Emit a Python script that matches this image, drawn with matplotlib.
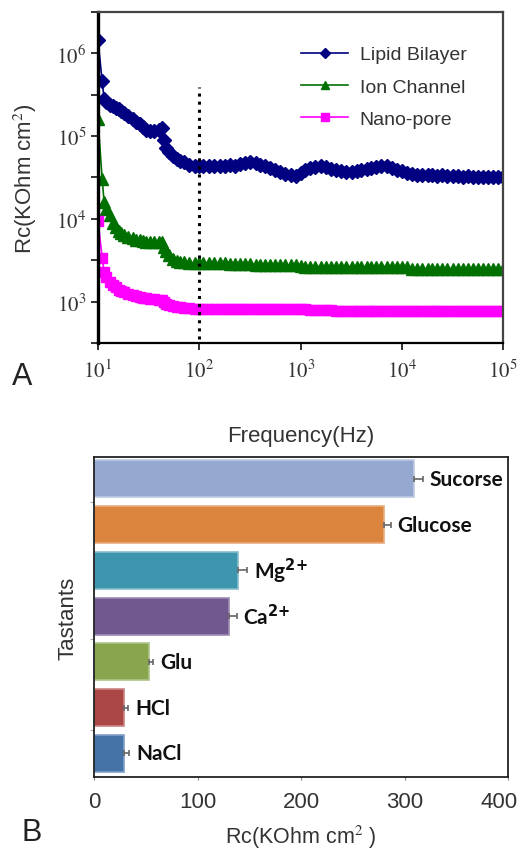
import numpy as np
import matplotlib
matplotlib.use("Agg")
import matplotlib.pyplot as plt
import matplotlib.transforms as mtransforms

plt.rcParams['font.family'] = ['Liberation Sans', 'DejaVu Sans']
plt.rcParams['mathtext.fontset'] = 'stix'

# ---- panel A data ----
freq = [10, 11, 11.5, 12, 13, 14, 15, 16, 17, 18, 20, 22, 24, 26, 28, 30, 33, 36, 40,
        43, 45, 47, 50, 55, 60, 65, 70, 80, 90, 100, 110, 125, 140, 160, 180, 200, 225, 250, 280,
        320, 360, 400, 450, 500, 560, 630, 710, 800, 900, 1000, 1120, 1250, 1400, 1600, 1800,
        2000, 2250, 2500, 2800, 3200, 3600, 4000, 4500, 5000, 5600, 6300, 7100, 8000, 9000,
        10000, 11200, 12500, 14000, 16000, 18000, 20000, 22500, 25000, 28000, 32000, 36000,
        40000, 45000, 50000, 56000, 63000, 71000, 80000, 90000, 100000]

lipid = [1.45e6, 4.6e5, 2.8e5, 2.6e5, 2.4e5, 2.3e5, 2.2e5, 2.1e5, 2.0e5, 1.9e5, 1.75e5,
         1.6e5, 1.5e5, 1.4e5, 1.3e5, 1.2e5, 1.15e5, 1.15e5, 1.17e5,
         1.25e5, 9e4, 7.2e4, 6.5e4, 5.8e4, 5.3e4, 5.0e4, 4.8e4, 4.5e4, 4.3e4,
         4.3e4, 4.3e4, 4.3e4, 4.3e4, 4.4e4, 4.4e4, 4.5e4, 4.4e4, 4.6e4, 4.7e4,
         4.8e4, 4.7e4, 4.5e4, 4.3e4, 4.1e4, 3.9e4, 3.7e4, 3.5e4, 3.35e4, 3.3e4,
         3.6e4, 3.9e4, 4.1e4, 4.2e4, 4.3e4, 4.2e4,
         4.0e4, 3.9e4, 3.8e4, 3.7e4, 3.7e4, 3.8e4, 3.9e4, 4.0e4, 4.1e4, 4.2e4, 4.3e4, 4.3e4,
         4.1e4, 3.9e4,
         3.8e4, 3.6e4, 3.5e4, 3.4e4, 3.4e4, 3.4e4, 3.4e4, 3.3e4, 3.4e4, 3.3e4, 3.3e4, 3.3e4,
         3.2e4, 3.3e4, 3.2e4, 3.2e4, 3.2e4, 3.2e4, 3.2e4, 3.2e4, 3.2e4]

ion = [1.6e5, 3e4, 1.6e4, 1.3e4, 1.1e4, 9e3, 8e3, 7.2e3, 6.8e3, 6.4e3, 6.0e3,
       5.8e3, 5.6e3, 5.5e3, 5.4e3, 5.3e3, 5.2e3, 5.2e3, 5.2e3,
       5.3e3, 4.6e3, 4.1e3, 3.7e3, 3.3e3, 3.1e3, 3.0e3, 3.0e3, 2.95e3, 2.95e3,
       2.95e3, 2.9e3, 2.9e3, 2.9e3, 2.9e3, 2.9e3, 2.85e3, 2.85e3, 2.85e3, 2.85e3,
       2.85e3, 2.8e3, 2.8e3, 2.8e3, 2.8e3, 2.8e3, 2.8e3, 2.75e3, 2.75e3, 2.75e3,
       2.7e3, 2.65e3, 2.65e3, 2.65e3, 2.65e3, 2.65e3,
       2.65e3, 2.65e3, 2.65e3, 2.65e3, 2.65e3, 2.65e3, 2.65e3, 2.65e3, 2.65e3, 2.65e3,
       2.65e3, 2.65e3, 2.65e3, 2.65e3,
       2.6e3, 2.6e3, 2.5e3, 2.5e3, 2.5e3, 2.5e3, 2.5e3, 2.5e3, 2.5e3, 2.5e3, 2.5e3, 2.5e3,
       2.5e3, 2.5e3, 2.5e3, 2.5e3, 2.5e3, 2.5e3, 2.5e3, 2.5e3, 2.5e3]

nano = [9.5e3, 3.4e3, 2.3e3, 2.0e3, 1.75e3, 1.6e3, 1.5e3, 1.4e3, 1.35e3, 1.3e3, 1.25e3,
        1.2e3, 1.17e3, 1.15e3, 1.12e3, 1.1e3, 1.08e3, 1.07e3, 1.06e3,
        1.05e3, 1.0e3, 940, 900, 880, 860, 850, 840, 830, 820,
        820, 820, 820, 815, 815, 815, 815, 810, 810, 810,
        810, 810, 810, 810, 810, 810, 805, 805, 805, 805,
        805, 805, 800, 800, 800, 800,
        800, 760, 760, 760, 760, 760, 760, 760, 760, 760, 760, 760, 760, 760,
        760, 760, 760, 760, 760, 760, 760, 760, 760, 760, 760, 760,
        760, 760, 760, 760, 760, 760, 760, 760, 760]

marker_freq = 100
marker_span = (355, 3.9e5)

# ---- panel B data ----
tastants = ['NaCl', 'HCl', 'Glu', r'Ca$^{\mathbf{2}{\mathbf{+}}}$', r'Mg$^{\mathbf{2}{\mathbf{+}}}$',
            'Glucose', 'Sucorse']
rc_vals = [29, 29, 53, 130, 139, 280, 309]
rc_err = [5, 3.5, 4, 7.5, 9, 6.5, 8.5]
bar_colors = ['#4572A7', '#AA4643', '#89A54E', '#71588F', '#3D96AE', '#DB843D', '#95A9D0']
edge_colors = ['#7f9fc8', '#c98583', '#aec48a', '#9d8bb3', '#85bdcc', '#e9ac7d', '#bcc9e2']

fig = plt.figure(figsize=(5.22, 8.54), dpi=100)

# ================= panel A =================
ax = fig.add_axes([0.1877, 0.5972, 0.776, 0.3876])
ax.set_xscale('log')
ax.set_yscale('log')
ax.plot(freq, lipid, color='#000080', marker='D', markersize=7, lw=1.2, label='Lipid Bilayer')
ax.plot(freq, ion, color='#007000', marker='^', markersize=8, lw=1.2, label='Ion Channel')
ax.plot(freq, nano, color='#ff00ff', marker='s', markersize=6.5, lw=1.2, label='Nano-pore')
ax.vlines(marker_freq, marker_span[0], marker_span[1], colors='black', linestyles=':', lw=2.2)

ax.set_xlim(10, 1e5)
ax.set_ylim(10**2.5, 10**6.5)
xt = [10, 100, 1000, 1e4, 1e5]
ax.set_xticks(xt, labels=[r'$\mathrm{10^{%d}}$' % int(np.log10(v)) for v in xt])
yt = [1e3, 1e4, 1e5, 1e6]
ax.set_yticks(yt, labels=[r'$\mathrm{10^{%d}}$' % int(np.log10(v)) for v in yt])
ax.set_yticks([10**2.5, 10**3.5, 10**4.5, 10**5.5, 10**6.5], minor=True)
ax.xaxis.set_minor_locator(matplotlib.ticker.NullLocator())
ax.tick_params(axis='both', which='both', direction='out', length=5, width=1.3,
               labelsize=15, labelcolor='#333333', color='#222222')
ax.tick_params(axis='x', pad=6)
for s in ['top', 'right']:
    ax.spines[s].set_color('#444444')
    ax.spines[s].set_linewidth(1.6)
ax.spines['bottom'].set_linewidth(1.6)
ax.spines['left'].set_linewidth(2.4)
ax.set_ylabel('Rc(KOhm cm$^2$)', fontsize=16, color='#333333', labelpad=12)
ax.set_xlabel('Frequency(Hz)', fontsize=16, color='#333333', labelpad=32)

leg = ax.legend(loc='upper right', bbox_to_anchor=(0.953, 0.951), frameon=False, fontsize=14,
                handlelength=2.4, labelspacing=0.75, handletextpad=0.6, markerscale=0.8)
for t in leg.get_texts():
    t.set_color('#333333')

fig.text(0.023, 0.549, 'A', fontsize=22, color='#222222')

# ================= panel B =================
bx = fig.add_axes([0.1807, 0.0890, 0.7925, 0.3747])
ypos = np.arange(len(tastants))
bx.barh(ypos, rc_vals, height=0.81, color=bar_colors, edgecolor=edge_colors, linewidth=1.2)
bx.errorbar(rc_vals, ypos, xerr=[np.zeros(len(rc_err)), rc_err], fmt='none',
            ecolor='#666666', elinewidth=1.2, capsize=2, capthick=1.2)
for i, name in enumerate(tastants):
    bx.annotate(name, (rc_vals[i] + rc_err[i], ypos[i]), xytext=(5, 0), textcoords='offset points',
                ha='left', va='center', fontsize=15, fontweight='bold', family=['Lato', 'DejaVu Sans'],
                color='#111111', math_fontfamily='dejavusans')

bx.set_xlim(0, 400)
bx.set_ylim(-0.52, 6.48)
bx.set_xticks([0, 100, 200, 300, 400])
bx.set_yticks([0.5, 2.5, 5.5], labels=['', '', ''])
bx.tick_params(axis='x', length=2, labelsize=16, labelcolor='#333333', color='#888888', pad=8)
bx.tick_params(axis='y', length=3, color='#aaaaaa')
for s in bx.spines.values():
    s.set_linewidth(1.3)
    s.set_color('#222222')
last = bx.get_xticklabels()[-1]
last.set_transform(last.get_transform() + mtransforms.ScaledTranslation(-9 / 100, 0, fig.dpi_scale_trans))
bx.set_ylabel('Tastants', fontsize=16, color='#333333', labelpad=5)
bx.set_xlabel('Rc(KOhm cm$^2$ )', fontsize=15.5, color='#333333', labelpad=8)

fig.text(0.042, 0.0152, 'B', fontsize=22, color='#222222')

fig.savefig('out.png', dpi=100)
